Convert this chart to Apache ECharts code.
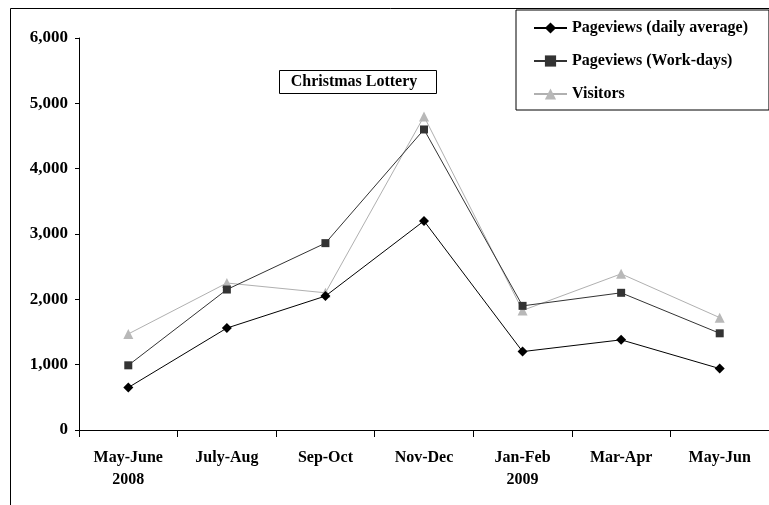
<!DOCTYPE html>
<html><head><meta charset="utf-8">
<script src="https://cdn.jsdelivr.net/npm/echarts@6/dist/echarts.min.js"></script>
<style>html,body{margin:0;padding:0;background:#fff}#c{width:769px;height:505px}</style>
</head><body><div id="c"></div>
<script>
var categories = ['May-June\n2008','July-Aug','Sep-Oct','Nov-Dec','Jan-Feb\n2009','Mar-Apr','May-Jun'];
var dailyAverage = [650, 1560, 2050, 3200, 1200, 1380, 940];
var workDays = [990, 2150, 2860, 4600, 1900, 2100, 1480];
var visitors = [1470, 2250, 2100, 4800, 1830, 2390, 1720];
var seriesNames = ['Pageviews (daily average)', 'Pageviews (Work-days)', 'Visitors'];
var annotation = 'Christmas Lottery';

var font = '"Liberation Serif", "Times New Roman", serif';
var chart = echarts.init(document.getElementById('c'));
chart.setOption({
  animation: false,
  backgroundColor: '#fff',
  graphic: [
    {type: 'rect', shape: {x: 10.5, y: 8.5, width: 800, height: 600}, style: {fill: 'none', stroke: '#000', lineWidth: 1}, silent: true},
    {type: 'rect', shape: {x: 279.5, y: 70.5, width: 157, height: 23}, style: {fill: '#fff', stroke: '#000', lineWidth: 1}, z: 10},
    {type: 'text', x: 354, y: 82, style: {text: annotation, font: 'bold 16px ' + font, fill: '#000', align: 'center', verticalAlign: 'middle'}, z: 11}
  ],
  legend: {
    orient: 'vertical', left: 516, top: 10,
    padding: [10, 21, 8, 17], itemGap: 17, itemWidth: 33, itemHeight: 14,
    borderColor: '#000', borderWidth: 1, backgroundColor: '#fff',
    textStyle: {fontFamily: font, fontWeight: 'bold', fontSize: 16, color: '#000'},
    data: seriesNames
  },
  grid: {left: 79, top: 38, width: 698, height: 392},
  xAxis: {
    type: 'category', data: categories, boundaryGap: true,
    axisLine: {lineStyle: {color: '#000', width: 1}},
    axisTick: {show: true, length: 7, lineStyle: {color: '#000'}},
    axisLabel: {fontFamily: font, fontWeight: 'bold', fontSize: 16, color: '#000', margin: 17, lineHeight: 22, interval: 0}
  },
  yAxis: {
    type: 'value', min: 0, max: 6000, interval: 1000,
    axisLine: {show: true, lineStyle: {color: '#000', width: 1}},
    axisTick: {show: true, length: 4, lineStyle: {color: '#000'}},
    splitLine: {show: false},
    axisLabel: {fontFamily: font, fontWeight: 'bold', fontSize: 17, color: '#000', margin: 11,
      formatter: function(v){ return v.toLocaleString('en-US'); }}
  },
  series: [
    {name: seriesNames[0], type: 'line', data: dailyAverage, symbol: 'diamond', symbolSize: 10,
     lineStyle: {color: '#000', width: 1}, itemStyle: {color: '#000'}, z: 4},
    {name: seriesNames[1], type: 'line', data: workDays, symbol: 'rect', symbolSize: 8,
     lineStyle: {color: '#333', width: 1}, itemStyle: {color: '#333'}, z: 3},
    {name: seriesNames[2], type: 'line', data: visitors, symbol: 'triangle', symbolSize: 10,
     lineStyle: {color: '#b0b0b0', width: 1}, itemStyle: {color: '#b8b8b8'}, z: 2}
  ]
});
</script></body></html>
